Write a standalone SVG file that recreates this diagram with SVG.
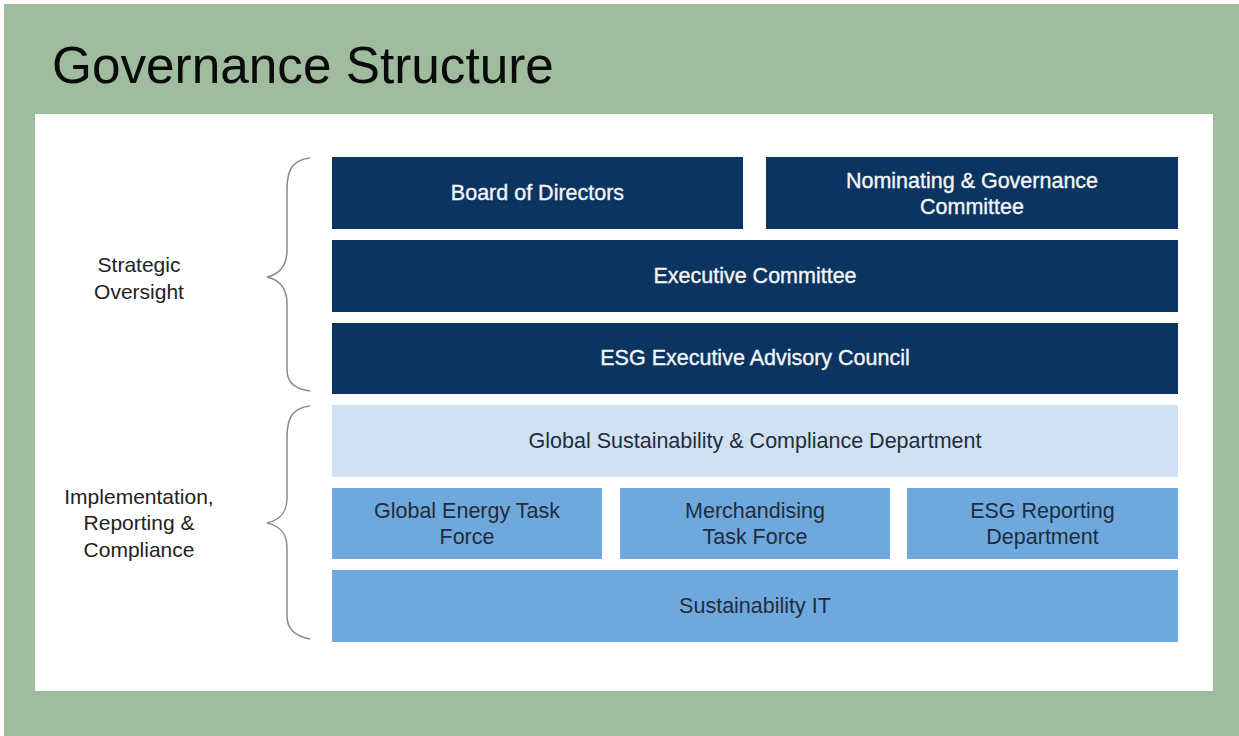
<svg xmlns="http://www.w3.org/2000/svg" width="1239" height="736" viewBox="0 0 1239 736">
<style>
.t{font-family:"Liberation Sans",Arial,sans-serif;font-size:21.5px;text-anchor:middle;dominant-baseline:central}
.w{fill:#f4f6f8;stroke:#f4f6f8;stroke-width:0.35}
.d{fill:#1f2d3c}
.dark{fill:#0b3560}
.light{fill:#cfe1f2}
.mid{fill:#6fa8dc}
.brace{fill:none;stroke:#8a8a8a;stroke-width:1.5}
.lab{font-family:"Liberation Sans",Arial,sans-serif;font-size:21px;text-anchor:middle;fill:#222}
</style>
<rect x="0" y="0" width="1239" height="736" fill="#fdfdfd"/>
<rect x="4" y="4" width="1235" height="732" fill="#9fbc9f"/>
<text x="52" y="83" font-family="'Liberation Sans',Arial,sans-serif" font-size="51.3" fill="#0a0a0a">Governance Structure</text>
<rect x="35" y="114" width="1178" height="577" fill="#ffffff"/>

<g id="connectors">
<path class="brace" d="M310,158 C292,160 287,170 287,190 L287,250 C287,265 280,274 267,277 C280,280 287,289 287,304 L287,370 C287,382 294,389 310,391"/>
<path class="brace" d="M310,406 C292,408 287,418 287,438 L287,498 C287,513 280,520 267,523 C280,526 287,533 287,548 L287,616 C287,628 294,636 310,639"/>
</g>

<g id="label-strategic">
<text class="lab" x="139" y="272">Strategic</text>
<text class="lab" x="139" y="299">Oversight</text>
</g>
<g id="label-implementation">
<text class="lab" x="139" y="504">Implementation,</text>
<text class="lab" x="139" y="530">Reporting &amp;</text>
<text class="lab" x="139" y="557">Compliance</text>
</g>

<g id="board">
<rect class="dark" x="332" y="157" width="411" height="72"/>
<text class="t w" x="537.5" y="193">Board of Directors</text>
</g>
<g id="nominating">
<rect class="dark" x="766" y="157" width="412" height="72"/>
<text class="t w" x="972" y="181">Nominating &amp; Governance</text>
<text class="t w" x="972" y="207">Committee</text>
</g>
<g id="executive">
<rect class="dark" x="332" y="240" width="846" height="72"/>
<text class="t w" x="755" y="276">Executive Committee</text>
</g>
<g id="esg-council">
<rect class="dark" x="332" y="323" width="846" height="71"/>
<text class="t w" x="755" y="358">ESG Executive Advisory Council</text>
</g>
<g id="global-sustainability">
<rect class="light" x="332" y="405" width="846" height="72"/>
<text class="t d" x="755" y="441">Global Sustainability &amp; Compliance Department</text>
</g>
<g id="energy">
<rect class="mid" x="332" y="488" width="270" height="71"/>
<text class="t d" x="467" y="511">Global Energy Task</text>
<text class="t d" x="467" y="537">Force</text>
</g>
<g id="merchandising">
<rect class="mid" x="620" y="488" width="270" height="71"/>
<text class="t d" x="755" y="511">Merchandising</text>
<text class="t d" x="755" y="537">Task Force</text>
</g>
<g id="esg-reporting">
<rect class="mid" x="907" y="488" width="271" height="71"/>
<text class="t d" x="1042.5" y="511">ESG Reporting</text>
<text class="t d" x="1042.5" y="537">Department</text>
</g>
<g id="sustainability-it">
<rect class="mid" x="332" y="570" width="846" height="72"/>
<text class="t d" x="755" y="606">Sustainability IT</text>
</g>
</svg>
